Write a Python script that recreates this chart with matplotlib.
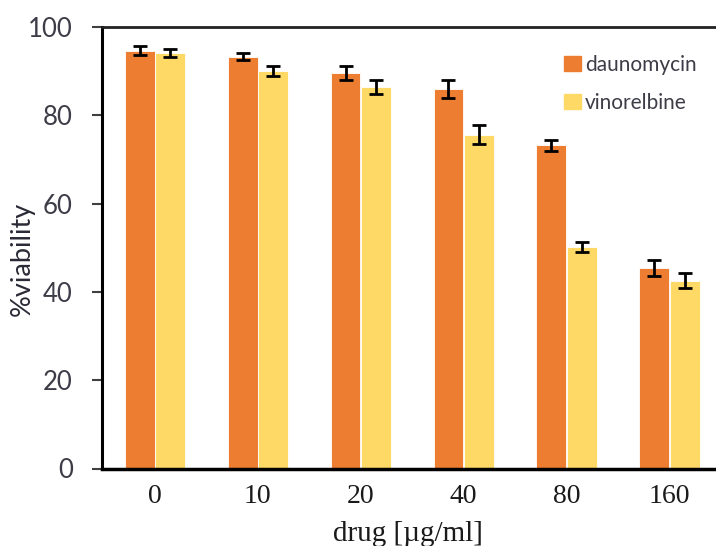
import numpy as np
import matplotlib
matplotlib.use("Agg")
import matplotlib.pyplot as plt
from matplotlib.patches import Patch

# data
doses = ["0", "10", "20", "40", "80", "160"]
dauno = [94.6, 93.3, 89.6, 86.0, 73.2, 45.5]
dauno_err = [1.0, 0.8, 1.6, 2.1, 1.2, 1.8]
vino = [94.2, 90.0, 86.5, 75.6, 50.2, 42.5]
vino_err = [0.9, 1.2, 1.6, 2.1, 1.1, 1.7]

orange = "#ED7D31"
yellow = "#FFD966"

fig = plt.figure(figsize=(7.16, 5.46), dpi=100)
ax = fig.add_axes([102 / 716, 77.5 / 546, 614 / 716, 441.5 / 546])

x = np.arange(len(doses))
w = 0.29
off = 0.148
err_kw = dict(ecolor="black", elinewidth=2.0, capsize=5, capthick=2.0)
ax.bar(x - off, dauno, w, yerr=dauno_err, color=orange, edgecolor="white",
       linewidth=0.6, error_kw=err_kw, label="daunomycin")
ax.bar(x + off, vino, w, yerr=vino_err, color=yellow, edgecolor="white",
       linewidth=0.6, error_kw=err_kw, label="vinorelbine")

ax.set_xlim(-0.515, 5.452)
ax.set_ylim(0, 100)
ax.set_yticks([0, 20, 40, 60, 80, 100])
ax.set_xticks(x)
ax.set_xticklabels(doses, family="Liberation Serif", fontsize=20, color="#1a1a1a")
ax.tick_params(axis="x", length=0, pad=11)
ax.tick_params(axis="y", length=7, width=1.5, color="#404040", pad=14,
               labelsize=18.5, labelcolor="#3d3d48")
for lab in ax.get_yticklabels():
    lab.set_family("Lato")

ax.spines["right"].set_visible(False)
ax.spines["left"].set_linewidth(2.2)
ax.spines["bottom"].set_linewidth(2.5)
ax.spines["top"].set_linewidth(2.0)
ax.spines["top"].set_color("#222222")

fig.text(22 / 716, 1 - 259 / 546, "%viability", family="Lato", fontsize=19.5,
         color="#2a2a36", rotation=90, ha="center", va="center")
fig.text(408 / 716, 25 / 546, "drug [µg/ml]", family="Liberation Serif",
         fontsize=21, color="#1a1a1a", ha="center", va="top")

handles = [Patch(color=orange), Patch(color=yellow)]
ax.legend(handles, ["daunomycin", "vinorelbine"], loc="upper left",
          bbox_to_anchor=((564 - 102) / 614, (468.5 - 55) / 441.5),
          frameon=False, borderpad=0, borderaxespad=0, handlelength=0.8,
          handleheight=0.75, handletextpad=0.2, labelspacing=0.85,
          prop={"family": "Lato", "size": 15}, labelcolor="#3d3d48")

fig.savefig("out.png", dpi=100)
